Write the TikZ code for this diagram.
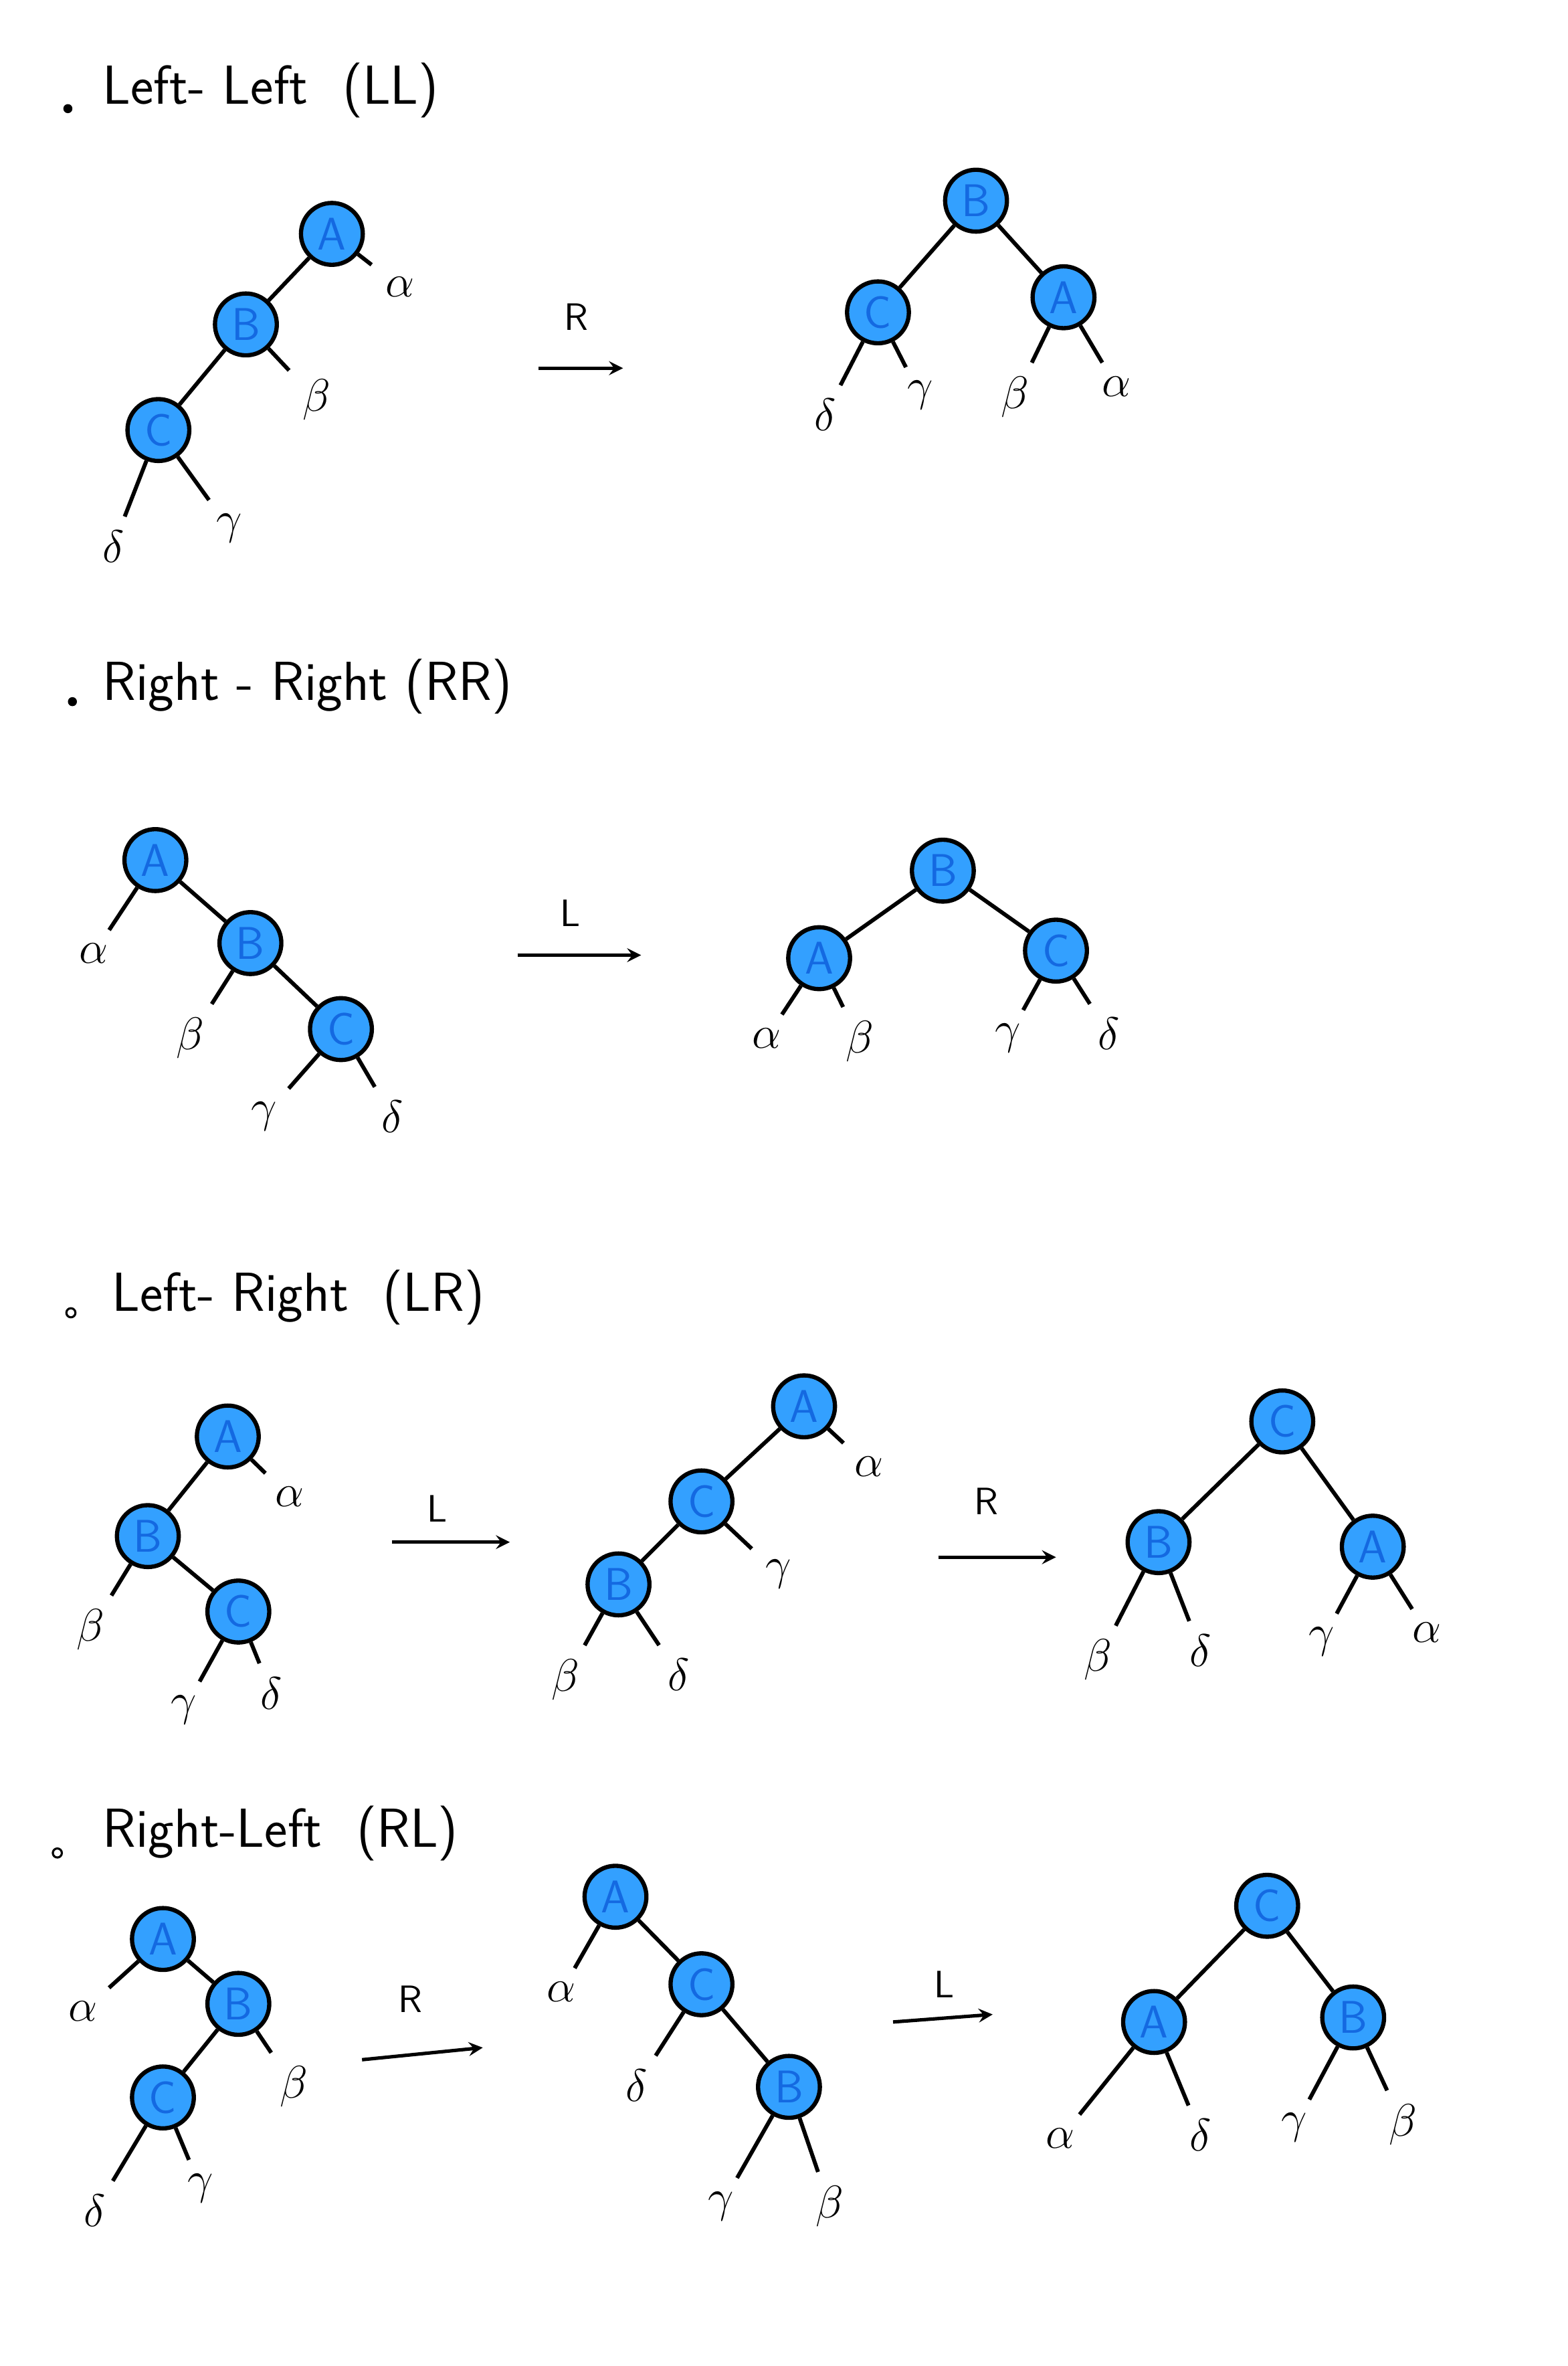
\documentclass[tikz,border=0pt]{standalone}
\usepackage{amsmath, amssymb}
\usepackage{xcolor}
\usepackage{tikz}
\usetikzlibrary{calc, positioning}

\definecolor{nutxanh}{RGB}{51,160,255}
\definecolor{chuxanh}{RGB}{20,105,225}

\tikzset{
    avl/.style={circle, draw=black, line width=1.6pt, fill=nutxanh, minimum size=0.82cm,
        inner sep=0pt, text=chuxanh, font=\sffamily\LARGE},
    leaf/.style={inner sep=5pt, font=\LARGE},
    title/.style={anchor=west, font=\sffamily\huge},
    rotname/.style={font=\sffamily\Large},
    canh/.style={line width=1.5pt},
    rot/.style={->, line width=1.3pt}
}

\begin{document}
\begin{tikzpicture}[>=stealth, x=0.02cm, y=-0.02cm]

    \useasboundingbox (0,0) rectangle (1039,1568);

    % =================================================================
    % 1. LEFT-LEFT (LL)
    % =================================================================
    \fill (45,72) circle (3);
    \node[title] (t1) at (62,60) {Left- Left \ (LL)};

    % Cay truoc khi quay
    \node[avl] (A1) at (220,155) {A};
    \node[avl] (B1) at (163,215) {B};
    \node[avl] (C1) at (105,285) {C};
    \node[leaf] (al1) at (265,190) {$\alpha$};
    \node[leaf] (be1) at (210,265) {$\beta$};
    \node[leaf] (de1) at (75,362) {$\delta$};
    \node[leaf] (ga1) at (152,350) {$\gamma$};
    \draw[canh] (A1) -- (B1) -- (C1);
    \draw[canh] (A1) -- (al1);
    \draw[canh] (B1) -- (be1);
    \draw[canh] (C1) -- (de1);
    \draw[canh] (C1) -- (ga1);

    % Mui ten quay phai
    \coordinate (r1s) at (357,244);
    \coordinate (r1e) at (413,244);
    \draw[rot] (r1s) -- (r1e);
    \node[rotname] (r1) at (382,210) {R};

    % Cay sau khi quay
    \node[avl] (B2) at (647,133) {B};
    \node[avl] (C2) at (582,207) {C};
    \node[avl] (A2) at (705,197) {A};
    \node[leaf] (de2) at (547,275) {$\delta$};
    \node[leaf] (ga2) at (610,262) {$\gamma$};
    \node[leaf] (be2) at (673,263) {$\beta$};
    \node[leaf] (al2) at (740,256) {$\alpha$};
    \draw[canh] (C2) -- (B2) -- (A2);
    \draw[canh] (C2) -- (de2);
    \draw[canh] (C2) -- (ga2);
    \draw[canh] (A2) -- (be2);
    \draw[canh] (A2) -- (al2);

    % =================================================================
    % 2. RIGHT-RIGHT (RR)
    % =================================================================
    \fill (48,465) circle (3);
    \node[title] (t2) at (62,455) {Right - Right (RR)};

    % Cay truoc khi quay
    \node[avl] (A3) at (103,570) {A};
    \node[avl] (B3) at (166,625) {B};
    \node[avl] (C3) at (226,682) {C};
    \node[leaf] (al3) at (62,632) {$\alpha$};
    \node[leaf] (be3) at (126,688) {$\beta$};
    \node[leaf] (ga3) at (175,740) {$\gamma$};
    \node[leaf] (de3) at (260,740) {$\delta$};
    \draw[canh] (A3) -- (B3) -- (C3);
    \draw[canh] (A3) -- (al3);
    \draw[canh] (B3) -- (be3);
    \draw[canh] (C3) -- (ga3);
    \draw[canh] (C3) -- (de3);

    % Mui ten quay trai
    \coordinate (r2s) at (343,633);
    \coordinate (r2e) at (425,633);
    \draw[rot] (r2s) -- (r2e);
    \node[rotname] (r2) at (378,605) {L};

    % Cay sau khi quay
    \node[avl] (B4) at (625,577) {B};
    \node[avl] (A4) at (543,635) {A};
    \node[avl] (C4) at (700,630) {C};
    \node[leaf] (al4) at (508,688) {$\alpha$};
    \node[leaf] (be4) at (570,690) {$\beta$};
    \node[leaf] (ga4) at (668,688) {$\gamma$};
    \node[leaf] (de4) at (735,685) {$\delta$};
    \draw[canh] (A4) -- (B4) -- (C4);
    \draw[canh] (A4) -- (al4);
    \draw[canh] (A4) -- (be4);
    \draw[canh] (C4) -- (ga4);
    \draw[canh] (C4) -- (de4);

    % =================================================================
    % 3. LEFT-RIGHT (LR)
    % =================================================================
    \draw[thick] (47,870) circle (3);
    \node[title] (t3) at (68,860) {Left- Right \ (LR)};

    % Cay ban dau
    \node[avl] (A5) at (151,952) {A};
    \node[avl] (B5) at (98,1018) {B};
    \node[avl] (C5) at (158,1068) {C};
    \node[leaf] (al5) at (192,992) {$\alpha$};
    \node[leaf] (be5) at (60,1080) {$\beta$};
    \node[leaf] (ga5) at (122,1133) {$\gamma$};
    \node[leaf] (de5) at (180,1122) {$\delta$};
    \draw[canh] (A5) -- (B5) -- (C5);
    \draw[canh] (A5) -- (al5);
    \draw[canh] (B5) -- (be5);
    \draw[canh] (C5) -- (ga5);
    \draw[canh] (C5) -- (de5);

    % Quay trai tai B
    \coordinate (r3s) at (260,1022);
    \coordinate (r3e) at (338,1022);
    \draw[rot] (r3s) -- (r3e);
    \node[rotname] (r3) at (290,1000) {L};

    % Cay trung gian
    \node[avl] (A6) at (533,932) {A};
    \node[avl] (C6) at (465,995) {C};
    \node[avl] (B6) at (410,1050) {B};
    \node[leaf] (al6) at (576,972) {$\alpha$};
    \node[leaf] (ga6) at (516,1043) {$\gamma$};
    \node[leaf] (be6) at (375,1113) {$\beta$};
    \node[leaf] (de6) at (450,1110) {$\delta$};
    \draw[canh] (A6) -- (C6) -- (B6);
    \draw[canh] (A6) -- (al6);
    \draw[canh] (C6) -- (ga6);
    \draw[canh] (B6) -- (be6);
    \draw[canh] (B6) -- (de6);

    % Quay phai tai A
    \coordinate (r4s) at (622,1032);
    \coordinate (r4e) at (700,1032);
    \draw[rot] (r4s) -- (r4e);
    \node[rotname] (r4) at (654,995) {R};

    % Cay ket qua
    \node[avl] (C7) at (850,942) {C};
    \node[avl] (B7) at (768,1022) {B};
    \node[avl] (A7) at (910,1025) {A};
    \node[leaf] (be7) at (728,1100) {$\beta$};
    \node[leaf] (de7) at (796,1094) {$\delta$};
    \node[leaf] (ga7) at (876,1088) {$\gamma$};
    \node[leaf] (al7) at (946,1082) {$\alpha$};
    \draw[canh] (B7) -- (C7) -- (A7);
    \draw[canh] (B7) -- (be7);
    \draw[canh] (B7) -- (de7);
    \draw[canh] (A7) -- (ga7);
    \draw[canh] (A7) -- (al7);

    % =================================================================
    % 4. RIGHT-LEFT (RL)
    % =================================================================
    \draw[thick] (38,1228) circle (3);
    \node[title] (t4) at (62,1215) {Right-Left \ (RL)};

    % Cay ban dau
    \node[avl] (A8) at (108,1285) {A};
    \node[avl] (B8) at (158,1328) {B};
    \node[avl] (C8) at (108,1390) {C};
    \node[leaf] (al8) at (55,1333) {$\alpha$};
    \node[leaf] (be8) at (195,1383) {$\beta$};
    \node[leaf] (de8) at (63,1465) {$\delta$};
    \node[leaf] (ga8) at (133,1450) {$\gamma$};
    \draw[canh] (A8) -- (B8) -- (C8);
    \draw[canh] (A8) -- (al8);
    \draw[canh] (B8) -- (be8);
    \draw[canh] (C8) -- (de8);
    \draw[canh] (C8) -- (ga8);

    % Quay phai tai B
    \coordinate (r5s) at (240,1365);
    \coordinate (r5e) at (320,1357);
    \draw[rot] (r5s) -- (r5e);
    \node[rotname] (r5) at (272,1325) {R};

    % Cay trung gian
    \node[avl] (A9) at (408,1257) {A};
    \node[avl] (C9) at (465,1315) {C};
    \node[avl] (B9) at (523,1383) {B};
    \node[leaf] (al9) at (372,1320) {$\alpha$};
    \node[leaf] (de9) at (422,1382) {$\delta$};
    \node[leaf] (ga9) at (478,1462) {$\gamma$};
    \node[leaf] (be9) at (550,1462) {$\beta$};
    \draw[canh] (A9) -- (C9) -- (B9);
    \draw[canh] (A9) -- (al9);
    \draw[canh] (C9) -- (de9);
    \draw[canh] (B9) -- (ga9);
    \draw[canh] (B9) -- (be9);

    % Quay trai tai A
    \coordinate (r6s) at (592,1340);
    \coordinate (r6e) at (658,1335);
    \draw[rot] (r6s) -- (r6e);
    \node[rotname] (r6) at (626,1315) {L};

    % Cay ket qua
    \node[avl] (C10) at (840,1263) {C};
    \node[avl] (A10) at (765,1340) {A};
    \node[avl] (B10) at (897,1337) {B};
    \node[leaf] (al10) at (703,1417) {$\alpha$};
    \node[leaf] (de10) at (796,1415) {$\delta$};
    \node[leaf] (ga10) at (858,1410) {$\gamma$};
    \node[leaf] (be10) at (930,1408) {$\beta$};
    \draw[canh] (A10) -- (C10) -- (B10);
    \draw[canh] (A10) -- (al10);
    \draw[canh] (A10) -- (de10);
    \draw[canh] (B10) -- (ga10);
    \draw[canh] (B10) -- (be10);

\end{tikzpicture}
\end{document}
